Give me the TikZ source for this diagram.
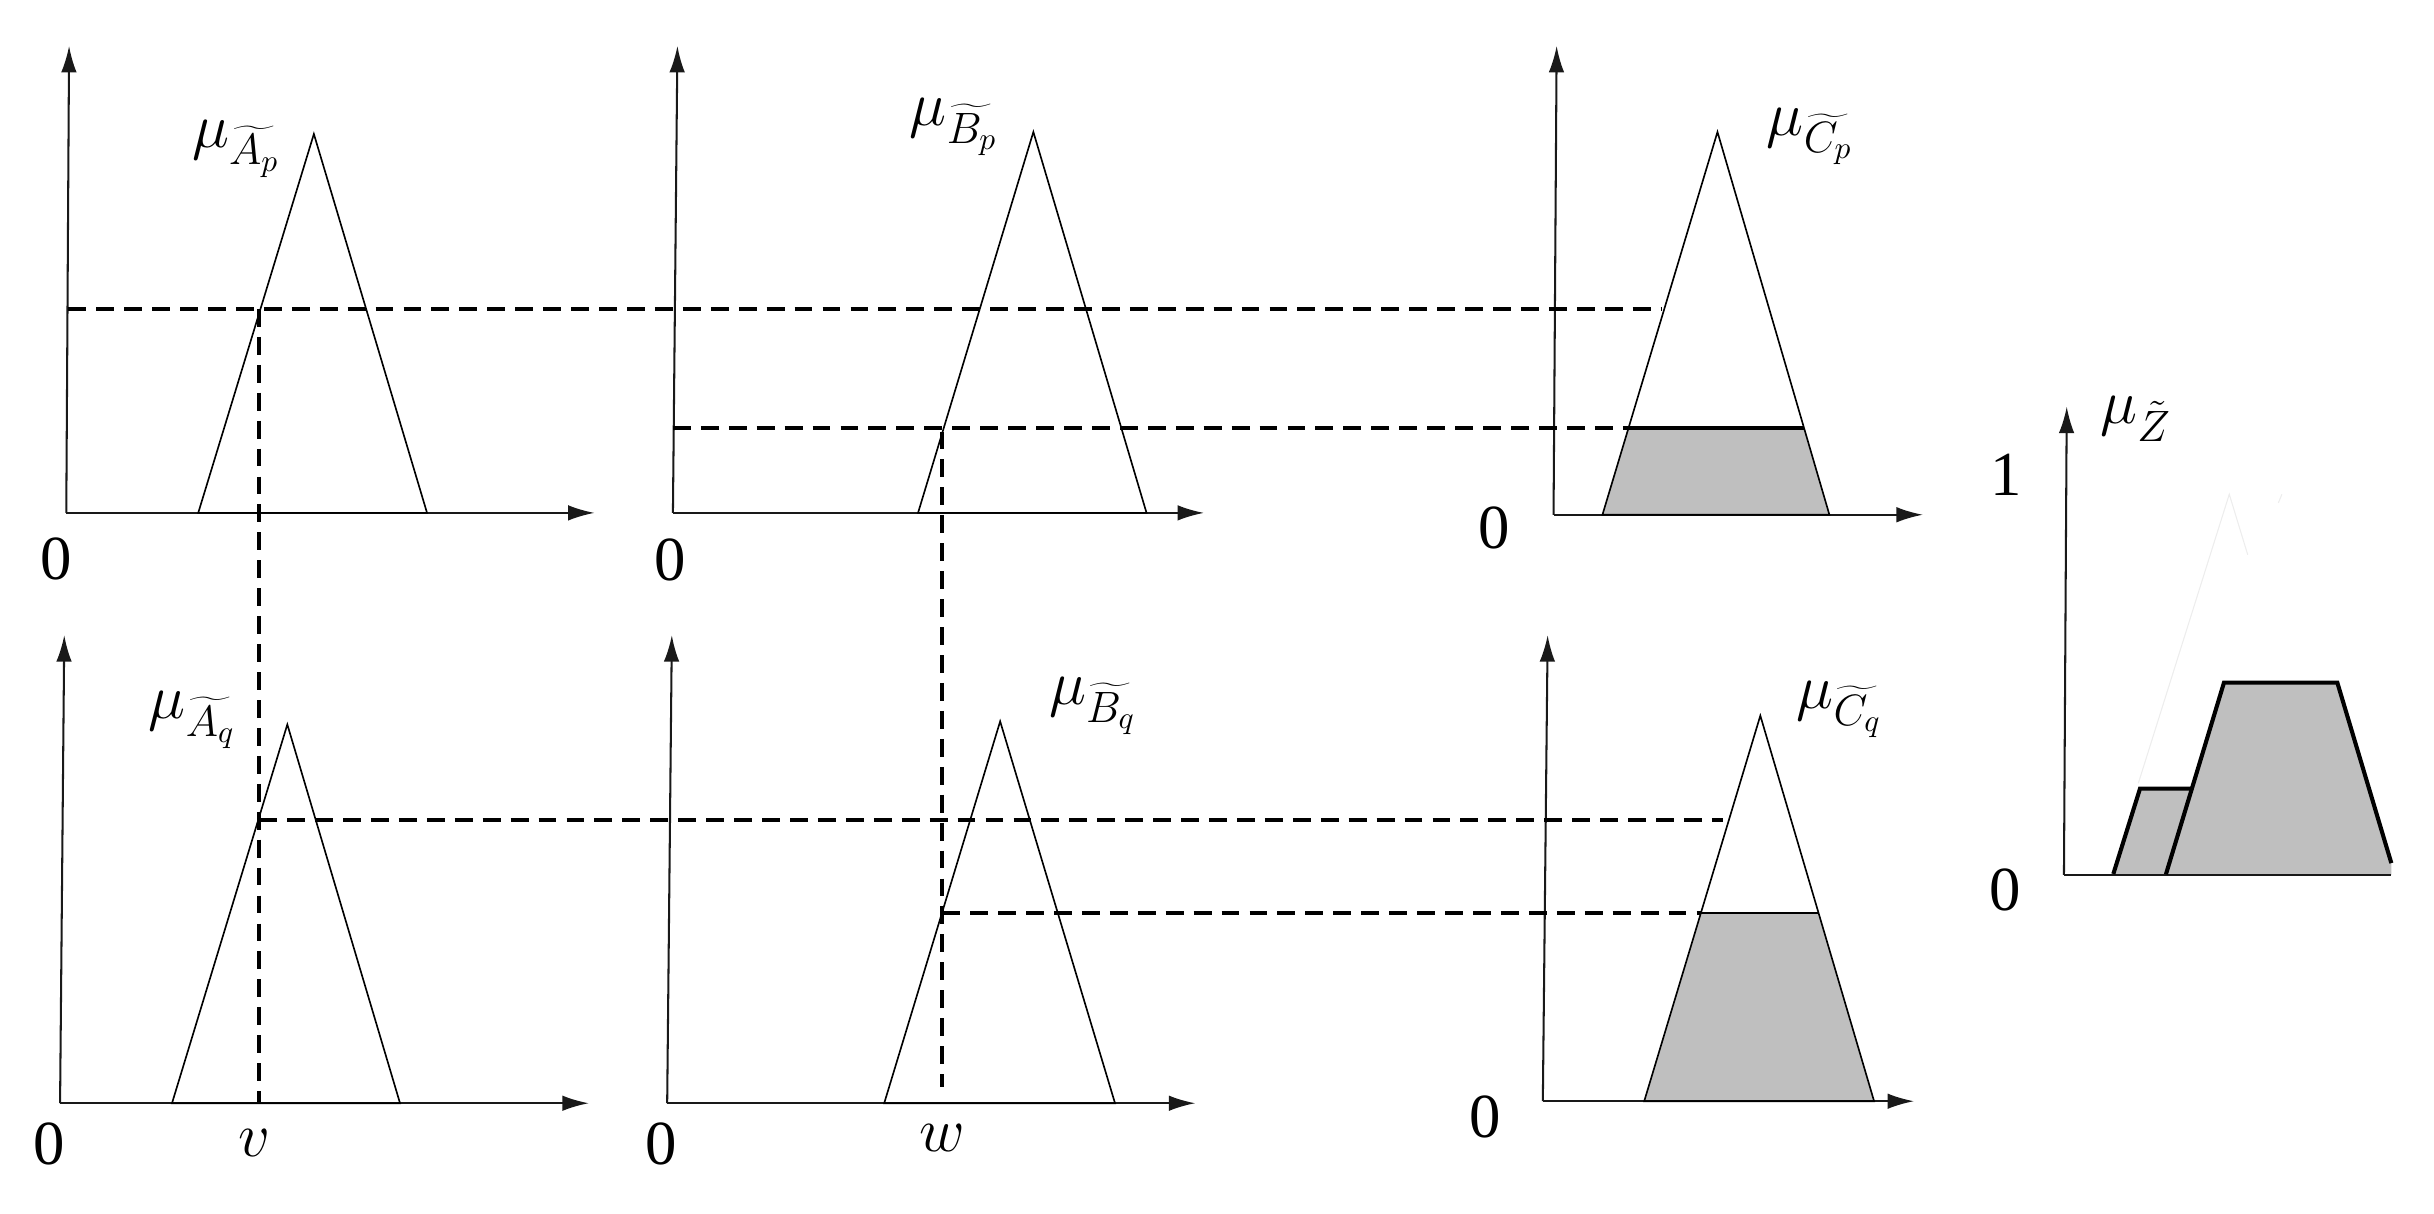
\RequirePackage{fix-cm}
\documentclass[tikz,border=0pt]{standalone}
\usepackage{fontspec}
\setmainfont{Liberation Serif}
\usetikzlibrary{arrows.meta}
\begin{document}
\begin{tikzpicture}[x=0.02cm,y=-0.02cm,
  axis/.style={line width=0.75pt, black!90},
  arr/.style={axis,-{Latex[length=0.34cm,width=0.2cm]}},
  tri/.style={line width=0.6pt},
  guide/.style={line width=1.45pt, dash pattern=on 0.23cm off 0.13cm},
  cutline/.style={line width=1.5pt},
  shade/.style={fill=black!25},
  lbl/.style={inner sep=0pt, font=\fontsize{23}{27}\selectfont},
]
\useasboundingbox (0,0) rectangle (1568,782);

% ---------- Panel A_p ----------
\coordinate (o1) at (42.7,330.4);
\draw[arr] (o1) -- (44.5,29.6);
\draw[arr] (o1) -- (383,330.4);
\draw[tri] (127.7,330.4) -- (202.2,86.3) -- (275.1,330.4) -- cycle;
\node[lbl] (zAp) at (36,360) {0};
\node[lbl] (lAp) at (152,96) {$\mu_{\widetilde{A_p}}$};

% ---------- Panel B_p ----------
\coordinate (o2) at (433.5,330.4);
\draw[arr] (o2) -- (436.4,29.6);
\draw[arr] (o2) -- (775.6,330.4);
\draw[tri] (591.4,330.4) -- (665.7,85) -- (738.6,330.4) -- cycle;
\node[lbl] (zBp) at (431.6,361) {0};
\node[lbl] (lBp) at (614.5,82) {$\mu_{\widetilde{B_p}}$};

% ---------- Panel C_p ----------
\coordinate (o3) at (1000.8,331.6);
\fill[shade] (1032.3,331.6) -- (1049.1,275.6) -- (1162.1,275.6) -- (1178.5,331.6) -- cycle;
\draw[arr] (o3) -- (1002.8,29.6);
\draw[arr] (o3) -- (1238.7,331.6);
\draw[tri] (1032.3,331.6) -- (1106.4,85) -- (1178.5,331.6) -- cycle;
\draw[cutline] (1049.1,275.6) -- (1162.1,275.6);
\node[lbl] (zCp) at (962.3,340) {0};
\node[lbl] (lCp) at (1166,88) {$\mu_{\widetilde{C_p}}$};

% ---------- Panel A_q ----------
\coordinate (o4) at (38.7,710.7);
\draw[arr] (o4) -- (41.4,409.2);
\draw[arr] (o4) -- (379.3,710.7);
\draw[tri] (110.8,710.7) -- (185.1,466.7) -- (257.7,710.7) -- cycle;
\node[lbl] (zAq) at (31.5,737) {0};
\node[lbl] (v) at (164,736) {$v$};
\node[lbl] (lAq) at (124,464) {$\mu_{\widetilde{A_q}}$};

% ---------- Panel B_q ----------
\coordinate (o5) at (429.8,710.7);
\draw[arr] (o5) -- (432.8,409.2);
\draw[arr] (o5) -- (770,710.7);
\draw[tri] (569.6,710.7) -- (644.3,464.7) -- (718.3,710.7) -- cycle;
\node[lbl] (zBq) at (426,737) {0};
\node[lbl] (w) at (607,733) {$w$};
\node[lbl] (lBq) at (704,455) {$\mu_{\widetilde{B_q}}$};

% ---------- Panel C_q ----------
\coordinate (o6) at (993.9,709.4);
\fill[shade] (1059.2,709.4) -- (1095.7,588.3) -- (1171.6,588.3) -- (1207.3,709.4) -- cycle;
\draw[arr] (o6) -- (997,409.2);
\draw[arr] (o6) -- (1233,709.4);
\draw[tri] (1059.2,709.4) -- (1134,461) -- (1207.3,709.4) -- cycle;
\draw[tri,line width=0.8pt] (1095.7,588.3) -- (1171.6,588.3);
\node[lbl] (zCq) at (956.8,719.5) {0};
\node[lbl] (lCq) at (1185,457) {$\mu_{\widetilde{C_q}}$};

% ---------- guide lines ----------
\draw[guide] (44,199) -- (1070,199);
\draw[guide] (167,199) -- (167,710);
\draw[guide] (433.5,275.6) -- (1049.1,275.6);
\draw[guide] (607,278) -- (607,700);
\draw[guide] (167,528.5) -- (1110,528.5);
\draw[guide] (607,588.3) -- (1095.7,588.3);

% ---------- Panel Z ----------
\coordinate (oz) at (1329.6,563.6);
\fill[shade] (1361.4,563.6) -- (1378.6,508) -- (1412,508) -- (1432.7,439.7)
  -- (1505.7,439.7) -- (1540.5,556) -- (1540.5,563.6) -- cycle;
\draw[black!7,line width=0.4pt] (1377.5,504.6) -- (1436.1,318.4) -- (1448,357.4);
\draw[black!7,line width=0.4pt] (1470,318.4) -- (1467.7,324);
\draw[arr] (oz) -- (1331.4,262);
\draw[axis] (oz) -- (1540.5,563.6);
\draw[line width=1.5pt] (1361.4,563) -- (1378.6,508) -- (1412,508);
\draw[line width=1.5pt] (1395.3,563.2) -- (1432.7,439.7) -- (1505.7,439.7) -- (1540.5,556);
\node[lbl] (zZ) at (1292,573.5) {0};
\node[lbl] (oneZ) at (1292.4,305.7) {1};
\node[lbl] (lZ) at (1376,270) {$\mu_{\tilde{Z}}$};
\end{tikzpicture}
\end{document}
